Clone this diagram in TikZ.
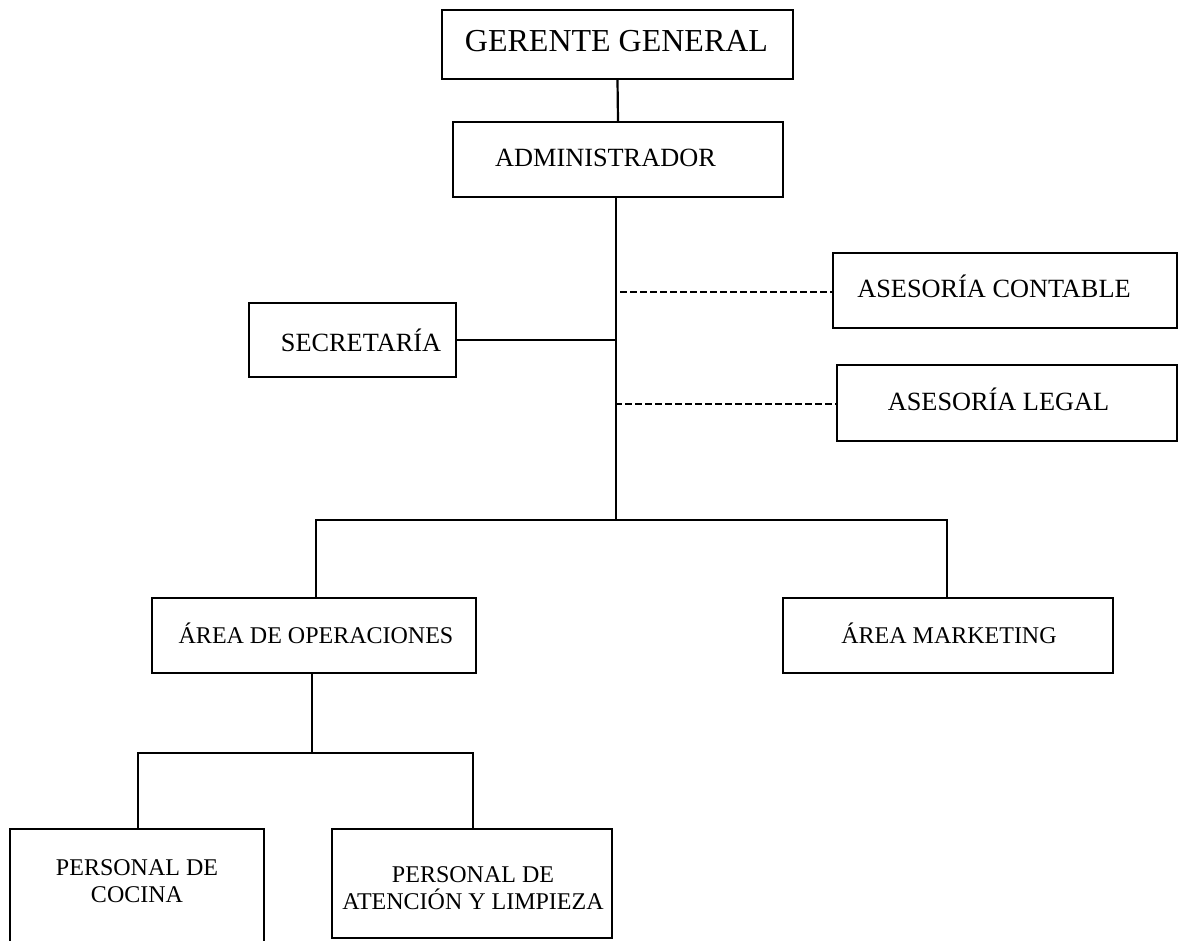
\documentclass[tikz,border=0pt]{standalone}
\usepackage{fontspec}
\setmainfont{Liberation Serif}
\begin{document}
\begin{tikzpicture}[x=1pt,y=-1pt,
  box/.style={draw, line width=2.1pt, inner sep=0pt},
  conn/.style={line width=2.2pt, line join=miter},
  dashconn/.style={line width=2.2pt, dash pattern=on 6.5pt off 3.5pt},
  txt/.style={anchor=base, inner sep=0pt},
  big/.style={font=\fontsize{32}{38}\selectfont},
  mid/.style={font=\fontsize{26.3}{31}\selectfont},
  sml/.style={font=\fontsize{24}{27.5}\selectfont}]
\clip (0,0) rectangle (1178,941);
\fill[white] (0,0) rectangle (1178,941);

% boxes
\node[box, minimum width=351pt, minimum height=69pt] (gg) at (617.5,44.5) {};
\node[box, minimum width=330pt, minimum height=75pt] (adm) at (618,159.5) {};
\node[box, minimum width=207pt, minimum height=74pt] (sec) at (352.5,340) {};
\node[box, minimum width=344pt, minimum height=75pt] (cont) at (1005,290.5) {};
\node[box, minimum width=340pt, minimum height=76pt] (leg) at (1007,403) {};
\node[box, minimum width=324pt, minimum height=75pt] (ops) at (314,635.5) {};
\node[box, minimum width=330pt, minimum height=75pt] (mkt) at (948,635.5) {};
\node[box, minimum width=254pt, minimum height=131pt] (coc) at (137,894.5) {};
\node[box, minimum width=280pt, minimum height=109pt] (aten) at (472,883.5) {};

% texts
\node[txt, big] (ggt) at (616.5,52) {GERENTE GENERAL};
\node[txt, mid] (admt) at (605.5,167) {ADMINISTRADOR};
\node[txt, mid] (sect) at (361,351) {SECRETARÍA};
\node[txt, mid] (contt) at (994,298) {ASESORÍA CONTABLE};
\node[txt, mid] (legt) at (998.5,410) {ASESORÍA LEGAL};
\node[txt, sml] (opst) at (316,643) {ÁREA DE OPERACIONES};
\node[txt, sml] (mktt) at (949,643) {ÁREA MARKETING};
\node[sml, anchor=north, inner sep=0pt, align=center] (coct) at (137,859) {PERSONAL DE\\COCINA};
\node[sml, anchor=north, inner sep=0pt, align=center] (atent) at (473,866) {PERSONAL DE\\ATENCIÓN Y LIMPIEZA};

% connectors
\draw[conn] (gg.south) -- (adm.north);
\coordinate (j1) at (616,520);
\draw[conn] (adm.south -| j1) -- (j1);
\coordinate (js) at (616,340);
\draw[conn] (sec.east) -- (js);
\coordinate (jc) at (620,292);
\draw[dashconn] (jc) -- (jc -| cont.west);
\coordinate (jl) at (615,404);
\draw[dashconn] (jl) -- (jl -| leg.west);
\coordinate (bl) at (316,520);
\coordinate (br) at (947,520);
\draw[conn] (ops.north -| bl) -- (bl) -- (br) -- (br |- mkt.north);
\draw[line width=2.9pt] (ops.north -| bl) -- (bl);
\draw[line width=2.9pt] (br) -- (br |- mkt.north);
\coordinate (j2) at (312,753);
\draw[conn] (ops.south -| j2) -- (j2);
\coordinate (cl) at (138,753);
\coordinate (cr) at (473,753);
\draw[conn] (coc.north -| cl) -- (cl) -- (cr) -- (cr |- aten.north);
\end{tikzpicture}
\end{document}
